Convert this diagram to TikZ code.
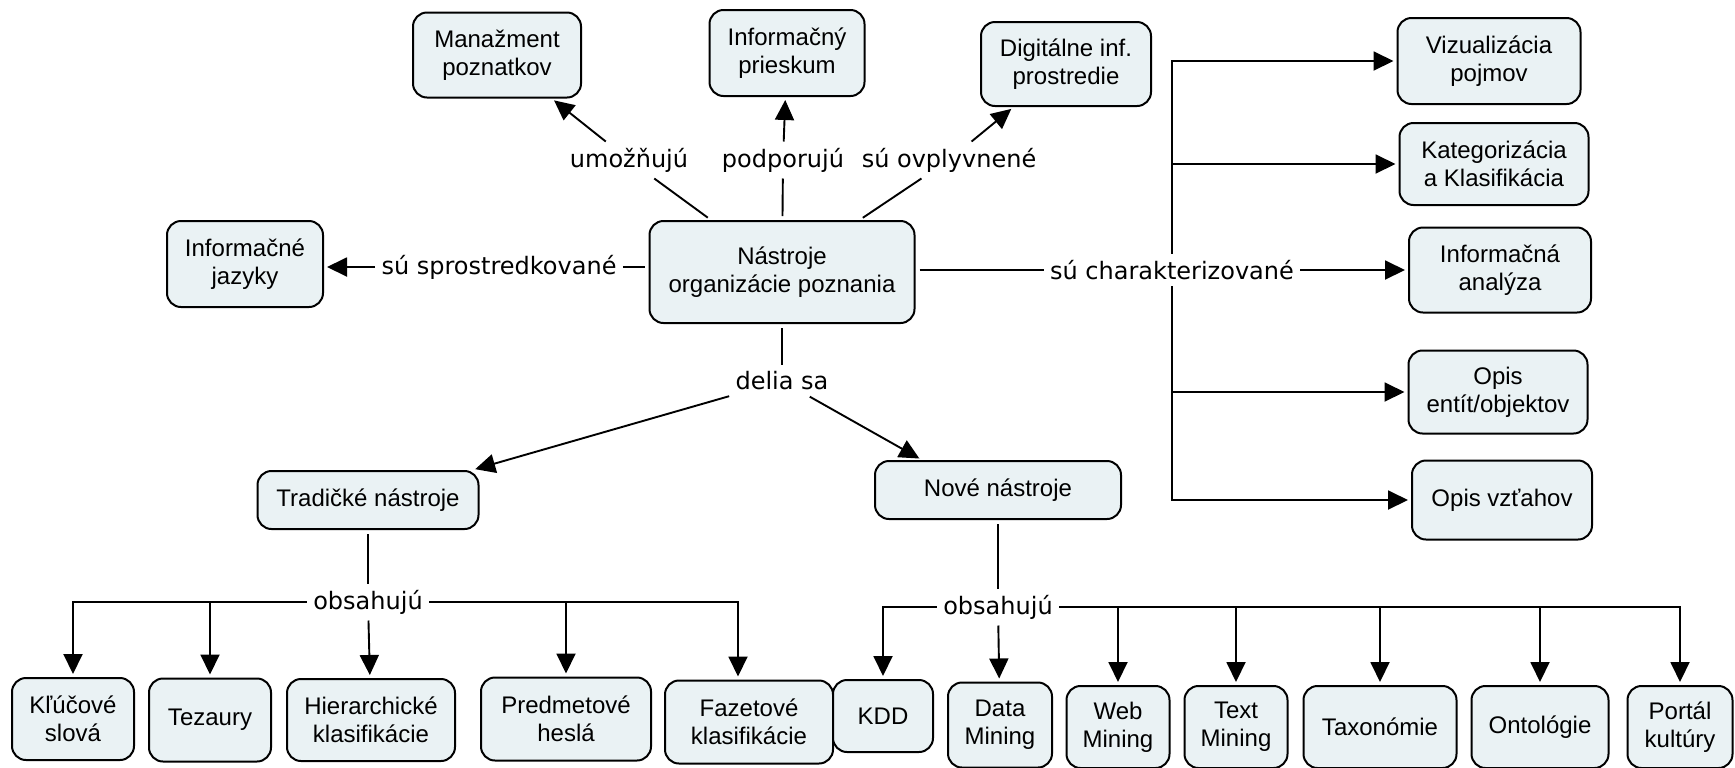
\documentclass[tikz,border=0pt]{standalone}
\usepackage{fontspec}
\newfontfamily\nodefont{Liberation Sans}
\newfontfamily\labfont{DejaVu Sans}
\usetikzlibrary{arrows.meta}
\definecolor{boxfill}{RGB}{234,242,244}
\begin{document}
\begin{tikzpicture}[x=0.5pt,y=-0.5pt,
  box/.style={draw=black, line width=1pt, fill=boxfill, rounded corners=7pt, align=center,
    font=\nodefont\fontsize{12}{13.8}\selectfont, inner sep=2pt},
  lab/.style={fill=white, inner sep=3pt, font=\labfont\fontsize{12}{14}\selectfont},
  con/.style={line width=0.95pt},
  arr/.style={con, -{Triangle[length=10pt,width=9.5pt]}, shorten >=1.5pt},
]
\clip (0,0) rectangle (1735,767);
\fill[white] (0,0) rectangle (1735,767);

% concept nodes
\node[box, minimum width=84pt, minimum height=42.5pt] (man) at (497,55) {Manažment\\poznatkov};
\node[box, minimum width=77.5pt, minimum height=43pt] (ipr) at (787,53) {Informačný\\prieskum};
\node[box, minimum width=85pt, minimum height=42pt] (dig) at (1066,64) {Digitálne inf.\\prostredie};
\node[box, minimum width=91.5pt, minimum height=43pt] (viz) at (1489,61) {Vizualizácia\\pojmov};
\node[box, minimum width=94.5pt, minimum height=41pt] (kat) at (1494,164) {Kategorizácia\\a Klasifikácia};
\node[box, minimum width=78pt, minimum height=43pt] (ij) at (245,264) {Informačné\\jazyky};
\node[box, minimum width=132.5pt, minimum height=51pt] (main) at (782,272) {Nástroje\\organizácie poznania};
\node[box, minimum width=91pt, minimum height=42.5pt] (ia) at (1500,270) {Informačná\\analýza};
\node[box, minimum width=89.5pt, minimum height=41.5pt] (oe) at (1498,392) {Opis\\entít/objektov};
\node[box, minimum width=90pt, minimum height=39.5pt] (ov) at (1502,500) {Opis vzťahov};
\node[box, minimum width=110.5pt, minimum height=29pt] (trad) at (368,500) {Tradičké nástroje};
\node[box, minimum width=123pt, minimum height=29pt] (nove) at (998,490) {Nové nástroje};

\node[box, minimum width=61pt, minimum height=41pt] (kluc) at (73,719) {Kľúčové\\slová};
\node[box, minimum width=61pt, minimum height=41.5pt] (tez) at (210,720) {Tezaury};
\node[box, minimum width=84pt, minimum height=41pt] (hier) at (371,720) {Hierarchické\\klasifikácie};
\node[box, minimum width=85pt, minimum height=41.5pt] (pred) at (566,719) {Predmetové\\heslá};
\node[box, minimum width=84pt, minimum height=41.5pt] (faz) at (749,722) {Fazetové\\klasifikácie};

\node[box, minimum width=50pt, minimum height=36pt] (kdd) at (883,716) {KDD};
\node[box, minimum width=52pt, minimum height=42.5pt] (dm) at (1000,725) {Data\\Mining};
\node[box, minimum width=51.5pt, minimum height=41pt] (web) at (1118,727) {Web\\Mining};
\node[box, minimum width=51.5pt, minimum height=41pt] (txt) at (1236,727) {Text\\Mining};
\node[box, minimum width=76.5pt, minimum height=41pt] (tax) at (1380,727) {Taxonómie};
\node[box, minimum width=68.5pt, minimum height=41pt] (ont) at (1540,727) {Ontológie};
\node[box, minimum width=52.5pt, minimum height=41pt] (port) at (1680,727) {Portál\\kultúry};

% linking phrases
\node[lab] (l1) at (629,160) {umožňujú};
\node[lab] (l2) at (783,160) {podporujú};
\node[lab] (l3) at (949,160) {sú ovplyvnené};
\node[lab] (l4) at (499,267) {sú sprostredkované};
\node[lab] (l5) at (1172,270) {sú charakterizované};
\node[lab] (l6) at (782,381) {delia sa};
\node[lab] (l7) at (368,602) {obsahujú};
\node[lab] (l8) at (998,607) {obsahujú};

\coordinate (fazin) at ([xshift=-5.5pt]faz.north);
\coordinate (novein) at ([xshift=-38pt]nove.north);

% connectors
\draw[con, shorten <=2pt] (main) -- (l1);
\draw[arr] (l1) -- (man);
\draw[con, shorten <=2pt] (main) -- (l2);
\draw[arr] (l2) -- (ipr);
\draw[con, shorten <=2pt] (main) -- (l3);
\draw[arr] (l3) -- (dig);

\draw[con, shorten >=2pt] (l4) -- (l4 -| main.west);
\draw[arr] (l4) -- (l4 -| ij.east);

\draw[con, shorten <=2pt] (l5 -| main.east) -- (l5);
\draw[arr] (l5) -- (l5 -| ia.west);
\draw[arr] (l5.north) -- (l5.north |- viz.west) -- (viz.west);
\draw[arr] (l5.north |- kat.west) -- (kat.west);
\draw[arr] (l5.south) -- (l5.south |- ov.west) -- (ov.west);
\draw[arr] (l5.south |- oe.west) -- (oe.west);

\draw[con, shorten <=2pt] (main) -- (l6);
\draw[arr] (l6) -- (trad);
\draw[arr] (l6) -- (novein);

\draw[con, shorten <=2pt] (trad) -- (l7);
\draw[arr] (l7) -- (l7 -| kluc) -- (kluc);
\draw[arr] (l7 -| tez) -- (tez);
\draw[arr] (l7) -- (hier);
\draw[arr] (l7) -- (l7 -| fazin) -- (fazin);
\draw[arr] (l7 -| pred) -- (pred);

\draw[con, shorten <=2pt] (nove) -- (l8);
\draw[arr] (l8) -- (l8 -| kdd) -- (kdd);
\draw[arr] (l8) -- (dm);
\draw[arr] (l8) -- (l8 -| port) -- (port);
\draw[arr] (l8 -| web) -- (web);
\draw[arr] (l8 -| txt) -- (txt);
\draw[arr] (l8 -| tax) -- (tax);
\draw[arr] (l8 -| ont) -- (ont);
\end{tikzpicture}
\end{document}
